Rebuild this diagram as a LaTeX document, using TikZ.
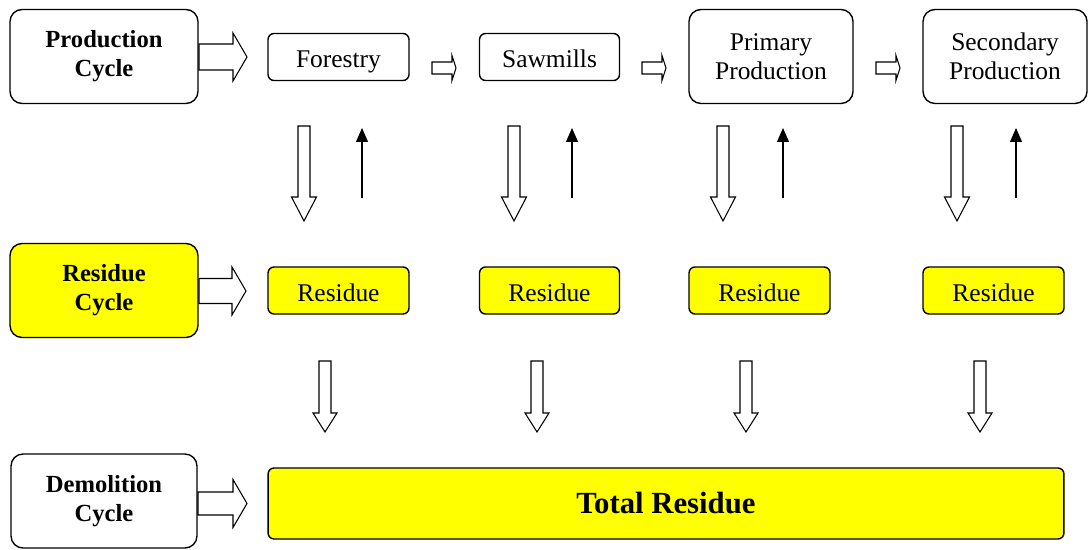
\documentclass[tikz,border=0pt]{standalone}
\usepackage{fontspec}
\setmainfont{Liberation Serif}
\usetikzlibrary{calc,arrows.meta}
\definecolor{resyellow}{RGB}{255,255,0}

\begin{document}
\begin{tikzpicture}[
    x=0.02cm, y=-0.02cm,
    >={Triangle[length=0.28cm,width=0.24cm]},
    box/.style={
      rectangle,
      rounded corners=0.12cm,
      draw,
      line width=0.8pt,
      align=center,
      inner sep=0pt,
      font=\fontsize{14.5}{16.5}\selectfont
    },
    cycle-box/.style={
      box,
      rounded corners=0.24cm,
      minimum width=3.76cm,
      minimum height=1.88cm,
      font=\fontsize{14}{16.5}\selectfont\bfseries
    },
    stage-box/.style={
      box,
      minimum width=2.82cm,
      minimum height=0.94cm,
      text height=12.5pt,
      text depth=0.5pt
    },
    tall-box/.style={
      box,
      rounded corners=0.24cm,
      minimum width=3.28cm,
      minimum height=1.88cm
    },
    block-right/.style n args={3}{
      draw, fill=white, line width=0.6pt,
      to path={let \p1=(\tikztostart), \p2=(\tikztotarget) in
        (\x1,{\y1+#1}) -- ({\x2-#3},{\y1+#1}) -- ({\x2-#3},{\y1+#2}) -- (\x2,\y1)
        -- ({\x2-#3},{\y1-#2}) -- ({\x2-#3},{\y1-#1}) -- (\x1,{\y1-#1}) -- cycle}
    },
    block-down/.style n args={3}{
      draw, fill=white, line width=0.6pt,
      to path={let \p1=(\tikztostart), \p2=(\tikztotarget) in
        ({\x1-#1},\y1) -- ({\x1-#1},{\y2+#3}) -- ({\x1-#2},{\y2+#3}) -- (\x1,\y2)
        -- ({\x1+#2},{\y2+#3}) -- ({\x1+#1},{\y2+#3}) -- ({\x1+#1},\y1) -- cycle}
    },
  ]

  \useasboundingbox (0,0) rectangle (1091,550);

  %%%%%%%%%%%%%%%%%%%%%%%%%%%%%%%%%%%%%%%%%%%%%%
  %%%%%%%%%%%%%%%% ACTUAL NODES %%%%%%%%%%%%%%%%%%%
  %%%%%%%%%%%%%%%%%%%%%%%%%%%%%%%%%%%%%%%%%%%%%%
    \node[cycle-box] (production) at (104,56.5) {Production\\Cycle};
    \node[cycle-box, fill=resyellow] (residue-cycle) at (104,290.5) {Residue\\Cycle};
    \node[cycle-box, minimum width=3.72cm] (demolition) at (104,501) {Demolition\\Cycle};

    \node[stage-box] (forestry) at (338.5,57) {Forestry};
    \node[stage-box, minimum width=2.8cm] (sawmills) at (549.5,57) {Sawmills};
    \node[tall-box] (primary) at (771,56.5) {Primary\\Production};
    \node[tall-box] (secondary) at (1005,56.5) {Secondary\\Production};

    \node[stage-box, fill=resyellow] (residue-forestry) at (338.5,290.5) {Residue};
    \node[stage-box, fill=resyellow, minimum width=2.8cm] (residue-sawmills) at (549.5,290.5) {Residue};
    \node[stage-box, fill=resyellow] (residue-primary) at (759.5,290.5) {Residue};
    \node[stage-box, fill=resyellow] (residue-secondary) at (993.5,290.5) {Residue};

    \node[box, fill=resyellow, minimum width=15.92cm, minimum height=1.42cm,
      font=\fontsize{17.5}{20}\selectfont\bfseries] (total) at (666,503.5) {Total Residue};

  %%%%%%%%%%%%%%%%%%%%%%%%%%%%%%%%%%%%%%%%%%%%%%
  %%%%%%%%%%%%%%%% HELPING COORDINATES %%%%%%%%%%%%
  %%%%%%%%%%%%%%%%%%%%%%%%%%%%%%%%%%%%%%%%%%%%%%
    \coordinate (production-out) at (199,57);
    \coordinate (production-in) at (247,57);
    \coordinate (residue-cycle-out) at (199,291);
    \coordinate (residue-cycle-in) at (246,291);
    \coordinate (demolition-out) at (198,503.5);
    \coordinate (demolition-in) at (247,503.5);

    \coordinate (forestry-sawmills-out) at (432,68);
    \coordinate (forestry-sawmills-in) at (456,68);
    \coordinate (sawmills-primary-out) at (642,68);
    \coordinate (sawmills-primary-in) at (666,68);
    \coordinate (primary-secondary-out) at (876,68);
    \coordinate (primary-secondary-in) at (900,68);

    \coordinate (forestry-down-out) at (304,126);
    \coordinate (forestry-down-in) at (304,221);
    \coordinate (sawmills-down-out) at (514,126);
    \coordinate (sawmills-down-in) at (514,221);
    \coordinate (primary-down-out) at (723,126);
    \coordinate (primary-down-in) at (723,221);
    \coordinate (secondary-down-out) at (957,126);
    \coordinate (secondary-down-in) at (957,221);

    \coordinate (forestry-up-out) at (362,198);
    \coordinate (forestry-up-in) at (362,128);
    \coordinate (sawmills-up-out) at (572,198);
    \coordinate (sawmills-up-in) at (572,128);
    \coordinate (primary-up-out) at (783,198);
    \coordinate (primary-up-in) at (783,128);
    \coordinate (secondary-up-out) at (1016,198);
    \coordinate (secondary-up-in) at (1016,128);

    \coordinate (residue-forestry-out) at (325,361);
    \coordinate (residue-forestry-in) at (325,432);
    \coordinate (residue-sawmills-out) at (537,361);
    \coordinate (residue-sawmills-in) at (537,432);
    \coordinate (residue-primary-out) at (746,361);
    \coordinate (residue-primary-in) at (746,432);
    \coordinate (residue-secondary-out) at (980,361);
    \coordinate (residue-secondary-in) at (980,432);

  %%%%%%%%%%%%%%%%%%%%%%%%%%%%%%%%%%%%%%%%%%%%%%
  %%%%%%%%%%%%%%%%%% PATHS %%%%%%%%%%%%%%%%%%%%%%%
  %%%%%%%%%%%%%%%%%%%%%%%%%%%%%%%%%%%%%%%%%%%%%%
    \path [block-right={0.26cm}{0.48cm}{0.28cm}] (production-out) to (production-in);
    \path [block-right={0.25cm}{0.48cm}{0.28cm}] (residue-cycle-out) to (residue-cycle-in);
    \path [block-right={0.23cm}{0.48cm}{0.28cm}] (demolition-out) to (demolition-in);

    \path [block-right={0.12cm}{0.25cm}{0.08cm}] (forestry-sawmills-out) to (forestry-sawmills-in);
    \path [block-right={0.12cm}{0.25cm}{0.08cm}] (sawmills-primary-out) to (sawmills-primary-in);
    \path [block-right={0.12cm}{0.25cm}{0.08cm}] (primary-secondary-out) to (primary-secondary-in);

    \path [block-down={0.12cm}{0.25cm}{0.48cm}] (forestry-down-out) to (forestry-down-in);
    \path [block-down={0.12cm}{0.25cm}{0.48cm}] (sawmills-down-out) to (sawmills-down-in);
    \path [block-down={0.12cm}{0.25cm}{0.48cm}] (primary-down-out) to (primary-down-in);
    \path [block-down={0.12cm}{0.25cm}{0.48cm}] (secondary-down-out) to (secondary-down-in);

    \path [->, draw, line width=0.6pt] (forestry-up-out) -- (forestry-up-in);
    \path [->, draw, line width=0.6pt] (sawmills-up-out) -- (sawmills-up-in);
    \path [->, draw, line width=0.6pt] (primary-up-out) -- (primary-up-in);
    \path [->, draw, line width=0.6pt] (secondary-up-out) -- (secondary-up-in);

    \path [block-down={0.12cm}{0.24cm}{0.38cm}] (residue-forestry-out) to (residue-forestry-in);
    \path [block-down={0.12cm}{0.24cm}{0.38cm}] (residue-sawmills-out) to (residue-sawmills-in);
    \path [block-down={0.12cm}{0.24cm}{0.38cm}] (residue-primary-out) to (residue-primary-in);
    \path [block-down={0.12cm}{0.24cm}{0.38cm}] (residue-secondary-out) to (residue-secondary-in);

\end{tikzpicture}
\end{document}
